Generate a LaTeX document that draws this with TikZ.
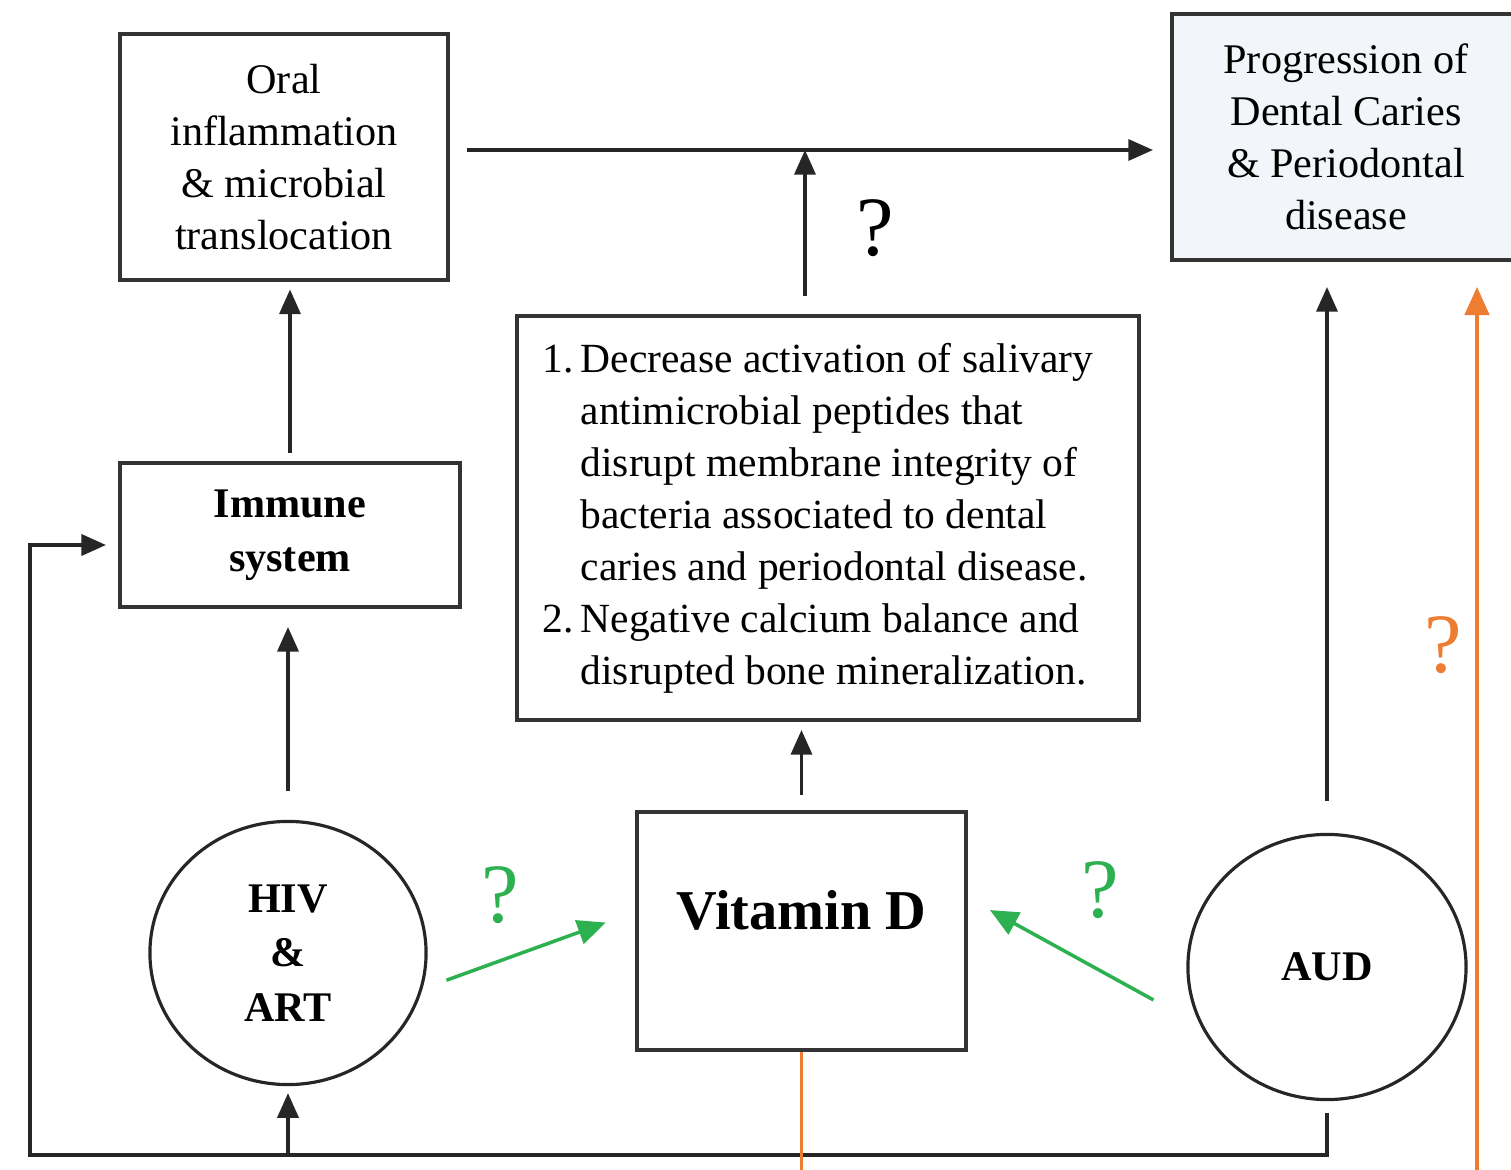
\documentclass[tikz,border=0pt]{standalone}
\usepackage{fontspec}
\setmainfont{Liberation Serif}
\usetikzlibrary{arrows.meta,shapes.geometric}
\definecolor{light}{rgb}{0.95, 0.96, 0.98}
\definecolor{qgreen}{RGB}{44, 176, 80}
\definecolor{qorange}{RGB}{237, 125, 49}

\begin{document}
\begin{tikzpicture}[x=0.01cm, y=-0.01cm,
  box/.style={draw=black!80, line width=1.1pt, inner sep=0pt, align=center, font=\fontsize{12}{14.8}\selectfont},
  ring/.style={draw=black!85, line width=0.9pt, ellipse, inner sep=0pt, align=center, font=\fontsize{12}{15.5}\selectfont\bfseries},
  arr/.style={-{Triangle[length=7pt,width=6pt]}, line width=0.9pt, draw=black!85},
  garr/.style={-{Triangle[length=8pt,width=7pt]}, line width=1pt, draw=qgreen},
  qmark/.style={font=\fontsize{24}{24}\selectfont}]
\useasboundingbox (0, 0) rectangle (1511, 1170);
\clip (0, 0) rectangle (1511, 1170);

\node [box, minimum width=3.28cm, minimum height=2.45cm] (oral) at (284, 157) {Oral\\inflammation\\\& microbial\\translocation};
\node [box, fill=light, minimum width=3.48cm, minimum height=2.46cm] (prog) at (1346, 137) {Progression of\\Dental Caries\\\& Periodontal\\disease};
\node [box, font=\fontsize{12}{15.5}\selectfont\bfseries, minimum width=3.40cm, minimum height=1.44cm] (immune) at (290, 535) {Immune\\system};
\node [box, font=\fontsize{11.8}{14.8}\selectfont, minimum width=6.22cm, minimum height=4.04cm] (list) at (828, 518) {%
  \begin{tabular}{@{}l@{\,}l@{}}
  1. & Decrease activation of salivary\\
     & antimicrobial peptides that\\
     & disrupt membrane integrity of\\
     & bacteria associated to dental\\
     & caries and periodontal disease.\\
  2. & Negative calcium balance and\\
     & disrupted bone mineralization.
  \end{tabular}\hspace{0.2cm}};
\node [box, minimum width=3.29cm, minimum height=2.38cm, label={[font=\fontsize{16}{16}\selectfont\bfseries, yshift=0.21cm]center:Vitamin D}] (vitd) at (801.5, 931) {};
\node [ring, minimum width=2.76cm, minimum height=2.63cm] (hiv) at (288, 953) {HIV\\\&\\ART};
\node [ring, minimum width=2.78cm, minimum height=2.65cm] (aud) at (1327, 967) {AUD};

\coordinate (top) at ([yshift=0.07cm]oral.east);
\draw [arr, shorten <=0.17cm, shorten >=0.17cm] (top) -- (top -| prog.west);
\draw [arr, shorten <=0.18cm] ([xshift=-0.23cm]list.north) -- ([xshift=-0.23cm]list.north |- top);
\node [qmark] (q1) at (875, 228) {?};

\draw [arr, shorten <=0.08cm, shorten >=0.08cm] (immune.north) -- (immune.north |- oral.south);
\draw [arr, shorten <=0.29cm, shorten >=0.18cm] (hiv.north) -- (hiv.north |- immune.south);
\draw [arr, shorten <=0.15cm, shorten >=0.08cm] (vitd.north) -- (vitd.north |- list.south);
\draw [arr, shorten <=0.32cm, shorten >=0.25cm] (aud.north) -- (aud.north |- prog.south);

\draw [garr, shorten <=0.2cm, shorten >=0.31cm] ([yshift=-0.34cm]hiv.east) -- ([yshift=0.19cm]vitd.west);
\draw [garr, shorten <=0.375cm, shorten >=0.25cm] ([yshift=-0.51cm]aud.west) -- ([yshift=0.33cm]vitd.east);
\node [qmark, text=qgreen] (q2) at (500, 895) {?};
\node [qmark, text=qgreen] (q3) at (1100, 890) {?};

\coordinate (fb) at (30, 1155);
\draw [arr, line width=1pt, shorten <=0.12cm, shorten >=0.12cm] (aud.south) |- (fb) |- ([yshift=-0.1cm]immune.west);
\draw [arr, shorten >=0.07cm] (hiv.south |- fb) -- (hiv.south);

\coordinate (oc) at (1477, 1220);
\draw [qorange, line width=0.9pt, -{Triangle[length=8pt,width=7pt]}, shorten >=0.25cm] (vitd.south) |- (oc) -- (oc |- prog.south);
\node [qmark, text=qorange] (q4) at (1443, 645) {?};
\end{tikzpicture}
\end{document}
